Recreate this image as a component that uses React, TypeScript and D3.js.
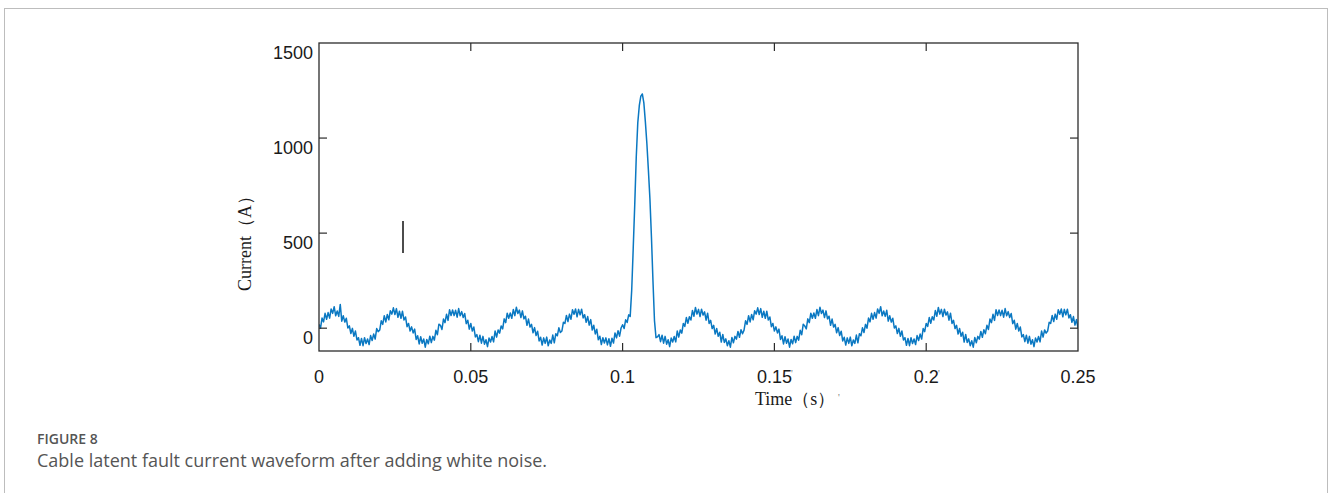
import * as d3 from "d3";

// time axis (s) and current axis (A)
const xTicks = [0, 0.05, 0.1, 0.15, 0.2, 0.25];
const xTickLabels = ["0", "0.05", "0.1", "0.15", "0.2", "0.25"];
const yTicks = [0, 500, 1000, 1500];
const yTickLabels = ["0", "500", "1000", "1500"];

// current samples, one 20 ms cycle per row, 0.5 ms apart
const SAMPLE_STEP = 0.0005;
const cycle0 = [20, 0, 53, 33, 78, 47, 82, 53, 101, 78, 113, 65, 90, 62, 125, 37, 65, 32, 52, 1, 12, -28, -1, -43, -15, -62, -50, -90, -54, -92, -50, -81, -57, -86, -39, -65, -31, -57, -2, -18];
const cycle1 = [-10, 39, 20, 66, 33, 72, 44, 92, 74, 107, 72, 103, 57, 89, 52, 89, 43, 59, 8, 25, -15, 7, -25, -5, -59, -40, -83, -45, -79, -57, -100, -59, -82, -42, -76, -43, -63, -11, -34, 21];
const cycle2 = [15, -7, 48, 29, 73, 41, 97, 67, 96, 66, 94, 58, 103, 65, 87, 56, 77, 24, 42, -5, 25, -15, 6, -46, -34, -71, -37, -79, -43, -84, -61, -97, -52, -73, -44, -72, -15, -47, -9, -26];
const cycle3 = [12, -4, 49, 29, 79, 52, 80, 52, 98, 66, 110, 77, 95, 56, 91, 49, 63, 15, 48, 6, 20, -24, 3, -39, -16, -67, -48, -89, -51, -80, -47, -93, -62, -80, -36, -77, -29, -40, 2, -23];
const cycle4 = [-15, 31, 25, 67, 35, 74, 47, 97, 73, 101, 60, 99, 70, 100, 54, 71, 31, 61, 16, 45, -10, 15, -30, -6, -61, -42, -86, -50, -78, -51, -88, -55, -95, -53, -78, -25, -51, -13, -42, 1];
const cycle5 = [18, -2, 44, 30, 70, 62, 200, 420, 650, 900, 1080, 1170, 1220, 1232, 1185, 1085, 970, 830, 680, 480, 250, 40, -50, -46, -34, -71, -37, -79, -43, -84, -61, -97, -52, -73, -44, -72, -15, -47, -9, -26];
const cycle6 = [25, 9, 56, 26, 60, 43, 93, 63, 109, 74, 99, 61, 100, 69, 86, 42, 79, 25, 41, -2, 15, -31, -2, -43, -21, -73, -33, -75, -56, -92, -66, -100, -49, -77, -43, -58, -17, -48, -8, -29];
const cycle7 = [-10, 39, 20, 66, 33, 72, 44, 92, 74, 107, 72, 103, 57, 89, 52, 89, 43, 59, 8, 25, -15, 7, -25, -5, -59, -40, -83, -45, -79, -57, -100, -59, -82, -42, -76, -43, -63, -11, -34, 21];
const cycle8 = [12, -4, 49, 29, 79, 52, 80, 52, 98, 66, 110, 77, 95, 56, 91, 49, 63, 15, 48, 6, 20, -24, 3, -39, -16, -67, -48, -89, -51, -80, -47, -93, -62, -80, -36, -77, -29, -40, 2, -23];
const cycle9 = [20, 0, 53, 33, 78, 47, 82, 53, 101, 78, 113, 65, 90, 62, 94, 37, 65, 32, 52, 1, 12, -28, -1, -43, -15, -62, -50, -90, -54, -92, -50, -81, -57, -86, -39, -65, -31, -57, -2, -18];
const cycle10 = [25, 9, 56, 26, 60, 43, 93, 63, 109, 74, 99, 61, 100, 69, 86, 42, 79, 25, 41, -2, 15, -31, -2, -43, -21, -73, -33, -75, -56, -92, -66, -100, -49, -77, -43, -58, -17, -48, -8, -29];
const cycle11 = [15, -7, 48, 29, 73, 41, 97, 67, 96, 66, 94, 58, 103, 65, 87, 56, 77, 24, 42, -5, 25, -15, 6, -46, -34, -71, -37, -79, -43, -84, -61, -97, -52, -73, -44, -72, -15, -47, -9, -26];
const cycle12 = [-15, 31, 25, 67, 35, 74, 47, 97, 73, 101, 60, 99, 70, 100, 54, 71, 31, 61, 16, 45, 0];

const current = [
  ...cycle0, ...cycle1, ...cycle2, ...cycle3, ...cycle4, ...cycle5, ...cycle6,
  ...cycle7, ...cycle8, ...cycle9, ...cycle10, ...cycle11, ...cycle12,
];

const W = 1328;
const H = 493;
const plot = { left: 319, right: 1078, top: 43, bottom: 351 };
const TICK = 8;
const axisColor = "#2b2b2b";
const lineColor = "#0a78c2";

export default function App() {
  const x = d3.scaleLinear().domain([0, 0.25]).range([plot.left, plot.right]);
  const y = d3.scaleLinear().domain([-120, 1500]).range([plot.bottom, plot.top]);

  const line = d3
    .line<number>()
    .x((_, i) => x(i * SAMPLE_STEP))
    .y((d) => y(d));

  const inner = xTicks.slice(1, -1);

  return (
    <svg
      width={W}
      height={H}
      style={{ position: "absolute", left: 0, top: 0, background: "#fff" }}
    >
      {/* card frame */}
      <rect x={4.5} y={8.5} width={1323} height={500} fill="#fff" stroke="#bdbdbd" strokeWidth={1} />

      {/* waveform */}
      <defs>
        <clipPath id="plotClip">
          <rect x={plot.left} y={plot.top} width={plot.right - plot.left} height={plot.bottom - plot.top} />
        </clipPath>
      </defs>
      <path
        d={line(current) ?? ""}
        fill="none"
        stroke={lineColor}
        strokeWidth={1.5}
        strokeLinejoin="round"
        clipPath="url(#plotClip)"
      />

      {/* axes box */}
      <rect
        x={plot.left}
        y={plot.top}
        width={plot.right - plot.left}
        height={plot.bottom - plot.top}
        fill="none"
        stroke={axisColor}
        strokeWidth={1.3}
      />

      {/* x ticks, top and bottom, pointing in */}
      {inner.map((t) => (
        <g key={`xt${t}`} stroke={axisColor} strokeWidth={1.2}>
          <line x1={x(t)} x2={x(t)} y1={plot.bottom} y2={plot.bottom - TICK} />
          <line x1={x(t)} x2={x(t)} y1={plot.top} y2={plot.top + TICK} />
        </g>
      ))}

      {/* y ticks, left and right */}
      {yTicks.slice(0, -1).map((v) => (
        <g key={`yt${v}`} stroke={axisColor} strokeWidth={1.2}>
          <line x1={plot.left} x2={plot.left + TICK} y1={y(v)} y2={y(v)} />
          <line x1={plot.right} x2={plot.right - TICK} y1={y(v)} y2={y(v)} />
        </g>
      ))}

      {/* tick labels */}
      <g fontFamily="'Liberation Sans', Arial, sans-serif" fontSize={18} fill="#1a1a1a">
        {xTicks.map((t, i) => (
          <text key={`xl${t}`} x={x(t)} y={383} textAnchor="middle">
            {xTickLabels[i]}
          </text>
        ))}
        {yTicks.map((v, i) => (
          <text key={`yl${v}`} x={313} y={y(v) + 16} textAnchor="end">
            {yTickLabels[i]}
          </text>
        ))}
      </g>

      {/* stray marks from the scan */}
      <g fontFamily="'Liberation Serif', serif" fontSize={10} fill="#777">
        <text x={791} y={377}>'</text>
        <text x={938} y={377}>'</text>
        <text x={838} y={401}>'</text>
      </g>
      <line x1={403} x2={403} y1={221} y2={253} stroke="#111" strokeWidth={1.5} />

      {/* axis titles */}
      <text
        x={755}
        y={405}
        fontFamily="'Liberation Serif', 'Times New Roman', serif"
        fontSize={18}
        fill="#1a1a1a"
      >
        Time（s）
      </text>
      <text
        transform="translate(251,239) rotate(-90)"
        textAnchor="middle"
        fontFamily="'Liberation Serif', 'Times New Roman', serif"
        fontSize={18}
        fill="#1a1a1a"
      >
        Current（A）
      </text>

      {/* caption */}
      <text x={37} y={444} fontFamily="'Open Sans', sans-serif" fontSize={14} fontWeight={600} fill="#555">
        FIGURE 8
      </text>
      <text x={37} y={467} fontFamily="'Open Sans', sans-serif" fontSize={18} fill="#555">
        Cable latent fault current waveform after adding white noise.
      </text>
    </svg>
  );
}
